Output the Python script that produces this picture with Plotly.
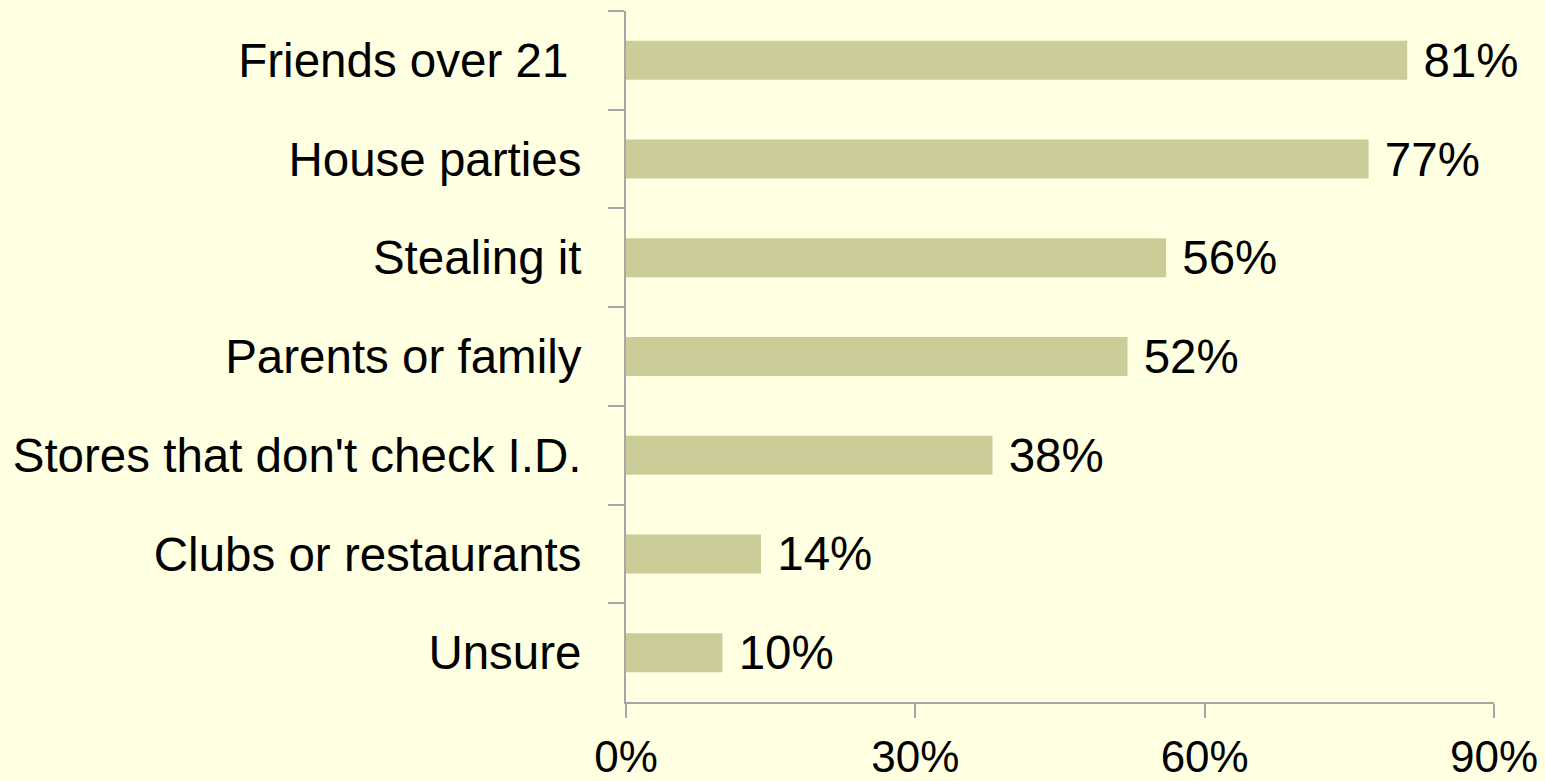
import plotly.graph_objects as go

categories = ["Friends over 21 ", "House parties", "Stealing it", "Parents or family",
              "Stores that don't check I.D.", "Clubs or restaurants", "Unsure"]
values = [81, 77, 56, 52, 38, 14, 10]
x_ticks = [0, 30, 60, 90]
x_tick_labels = ["0%", "30%", "60%", "90%"]

BG = "#FFFFE1"
BAR = "#CCCC99"
AXIS = "#A6A6A6"
FONT = "Liberation Sans, Arial, sans-serif"

fig = go.Figure(go.Bar(
    x=values,
    y=categories,
    orientation="h",
    marker=dict(color=BAR, line=dict(width=0)),
    text=["\u00a0" + f"{v}%" for v in values],
    textposition="outside",
    textfont=dict(family=FONT, size=47.5, color="black"),
    constraintext="none",
    cliponaxis=False,
))

fig.update_layout(
    width=1545, height=781,
    margin=dict(l=626, r=51, t=11, b=79, autoexpand=False),
    paper_bgcolor=BG, plot_bgcolor=BG,
    bargap=0.605,
    showlegend=False,
    font=dict(family=FONT, color="black"),
)
fig.update_xaxes(
    range=[0, 90], tickvals=x_ticks, ticktext=x_tick_labels,
    showgrid=False, zeroline=False,
    showline=True, linecolor=AXIS, linewidth=2,
    ticks="outside", ticklen=14, tickwidth=2, tickcolor=AXIS,
    tickfont=dict(family=FONT, size=44, color="black"),
    ticklabelstandoff=1,
    automargin=False,
)
fig.update_yaxes(
    autorange="reversed", type="category",
    showgrid=False, zeroline=False,
    showline=True, linecolor=AXIS, linewidth=2,
    ticks="outside", ticklen=16, tickwidth=2, tickcolor=AXIS,
    tickson="boundaries",
    tickfont=dict(family=FONT, size=47.5, color="black"),
    ticklabelstandoff=33,
    automargin=False,
)

fig.write_html(
    "out.html",
    config={"displayModeBar": False},
    post_script="document.body.style.margin='0';document.body.style.background='%s';" % BG,
)
